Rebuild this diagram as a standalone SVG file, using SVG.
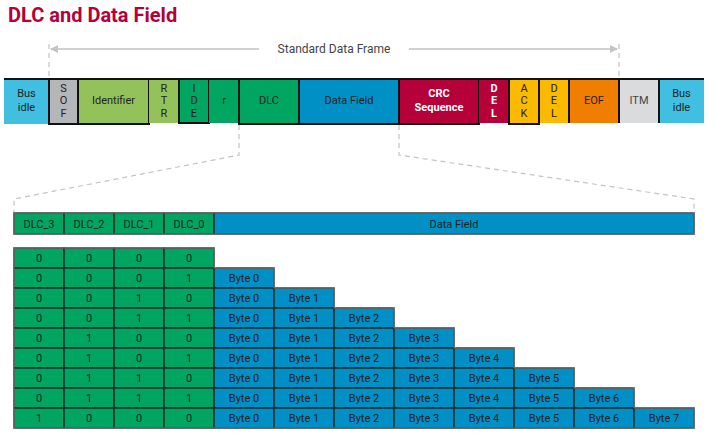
<svg xmlns="http://www.w3.org/2000/svg" width="721" height="439" viewBox="0 0 721 439">
<style>
text{font-family:Roboto,"Liberation Sans",sans-serif;font-size:11px;fill:#222;text-anchor:middle}
.t{font-size:20px;font-weight:bold;fill:#b5003a;text-anchor:start}
.w{fill:#fff;font-weight:bold}
.g{fill:#444}
.c{stroke:#111;stroke-width:2}
.tb{stroke:#1c2e2a;stroke-width:1.5}
.dash{fill:none;stroke:#c4c4c4;stroke-width:1.2;stroke-dasharray:5 4}
</style>
<defs>
<marker id="ah" viewBox="0 0 8 8" refX="7" refY="4" markerWidth="8" markerHeight="8" orient="auto-start-reverse" markerUnits="userSpaceOnUse">
<path d="M0,0 L8,4 L0,8 Z" fill="#c4c4c4"/>
</marker>
</defs>
<rect width="721" height="439" fill="#fff"/>
<text class="t" x="8" y="22">DLC and Data Field</text>

<g id="connectors">
<line x1="51" y1="49" x2="259" y2="49" stroke="#d0d0d0" stroke-width="2" marker-start="url(#ah)"/>
<line x1="409" y1="49" x2="617" y2="49" stroke="#d0d0d0" stroke-width="2" marker-end="url(#ah)"/>
<path class="dash" d="M49,44 V79"/>
<path class="dash" d="M619,44 V79"/>
<path class="dash" d="M239,125 V155 L14,199 V212"/>
<path class="dash" d="M399,125 V155 L694,199 V212"/>
<text x="334" y="53" class="g" style="font-size:12px">Standard Data Frame</text>
</g>

<g id="frame">
<g id="busidle1"><rect x="4" y="79" width="45" height="45" fill="#41bfe0"/><text x="26.5" y="97">Bus</text><text x="26.5" y="111">idle</text></g>
<g id="sof"><rect x="49" y="79" width="29" height="45" fill="#b4b6b9" class="c"/><text x="63.5" y="92">S</text><text x="63.5" y="104">O</text><text x="63.5" y="117">F</text></g>
<g id="identifier"><rect x="78" y="79" width="71" height="45" fill="#93c25a" class="c"/><text x="113.5" y="104">Identifier</text></g>
<g id="rtr"><rect x="149" y="79" width="30" height="44" fill="#93c25a"/><text x="164" y="92">R</text><text x="164" y="104">T</text><text x="164" y="117">R</text></g>
<g id="ide"><rect x="179" y="79" width="30" height="44" fill="#00a562" class="c"/><text x="194" y="92">I</text><text x="194" y="104">D</text><text x="194" y="117">E</text></g>
<g id="r"><rect x="209" y="79" width="30" height="44" fill="#00a562"/><text x="224" y="104">r</text></g>
<g id="dlc"><rect x="239" y="79" width="60" height="45" fill="#00a562" class="c"/><text x="269" y="104">DLC</text></g>
<g id="datafield"><rect x="299" y="79" width="100" height="45" fill="#0090c6" class="c"/><text x="349" y="104">Data Field</text></g>
<g id="crc"><rect x="399" y="79" width="80" height="45" fill="#b5003a" class="c"/><text x="439" y="97" class="w">CRC</text><text x="439" y="111" class="w">Sequence</text></g>
<g id="del1"><rect x="479" y="79" width="30" height="44" fill="#b5003a"/><text x="494" y="92" class="w">D</text><text x="494" y="104" class="w">E</text><text x="494" y="117" class="w">L</text></g>
<g id="ack"><rect x="509" y="79" width="30" height="45" fill="#fbb900" class="c"/><text x="524" y="92">A</text><text x="524" y="104">C</text><text x="524" y="117">K</text></g>
<g id="del2"><rect x="539" y="79" width="30" height="44" fill="#fbb900"/><text x="554" y="92">D</text><text x="554" y="104">E</text><text x="554" y="117">L</text></g>
<g id="eof"><rect x="569" y="79" width="50" height="44" fill="#f07e00"/><text x="594" y="104">EOF</text></g>
<g id="itm"><rect x="619" y="79" width="40" height="44" fill="#d9dbdd"/><text x="639" y="104" class="g">ITM</text></g>
<g id="busidle2"><rect x="659" y="79" width="45" height="44" fill="#41bfe0"/><text x="681.5" y="97">Bus</text><text x="681.5" y="111">idle</text></g>
<path d="M4,79 H704 M569,79 V123 M619,79 V123 M659,79 V123 M539,79 V123" stroke="#111" stroke-width="2" fill="none"/>
</g>

<g id="dlcrow">
<rect x="14" y="213" width="50" height="21" fill="#00a562" class="tb"/><text x="39" y="227.5">DLC_3</text>
<rect x="64" y="213" width="50" height="21" fill="#00a562" class="tb"/><text x="89" y="227.5">DLC_2</text>
<rect x="114" y="213" width="50" height="21" fill="#00a562" class="tb"/><text x="139" y="227.5">DLC_1</text>
<rect x="164" y="213" width="50" height="21" fill="#00a562" class="tb"/><text x="189" y="227.5">DLC_0</text>
<rect x="214" y="213" width="480" height="21" fill="#0090c6" class="tb"/><text x="454" y="227.5">Data Field</text>
<rect x="14" y="213" width="680" height="21" fill="none" stroke="#808080" stroke-width="1"/>
</g>

<g id="table">
<g fill="#00a562" class="tb">
<rect x="14" y="248" width="50" height="20"/><rect x="64" y="248" width="50" height="20"/><rect x="114" y="248" width="50" height="20"/><rect x="164" y="248" width="50" height="20"/>
<rect x="14" y="268" width="50" height="20"/><rect x="64" y="268" width="50" height="20"/><rect x="114" y="268" width="50" height="20"/><rect x="164" y="268" width="50" height="20"/>
<rect x="14" y="288" width="50" height="20"/><rect x="64" y="288" width="50" height="20"/><rect x="114" y="288" width="50" height="20"/><rect x="164" y="288" width="50" height="20"/>
<rect x="14" y="308" width="50" height="20"/><rect x="64" y="308" width="50" height="20"/><rect x="114" y="308" width="50" height="20"/><rect x="164" y="308" width="50" height="20"/>
<rect x="14" y="328" width="50" height="20"/><rect x="64" y="328" width="50" height="20"/><rect x="114" y="328" width="50" height="20"/><rect x="164" y="328" width="50" height="20"/>
<rect x="14" y="348" width="50" height="20"/><rect x="64" y="348" width="50" height="20"/><rect x="114" y="348" width="50" height="20"/><rect x="164" y="348" width="50" height="20"/>
<rect x="14" y="368" width="50" height="20"/><rect x="64" y="368" width="50" height="20"/><rect x="114" y="368" width="50" height="20"/><rect x="164" y="368" width="50" height="20"/>
<rect x="14" y="388" width="50" height="20"/><rect x="64" y="388" width="50" height="20"/><rect x="114" y="388" width="50" height="20"/><rect x="164" y="388" width="50" height="20"/>
<rect x="14" y="408" width="50" height="20"/><rect x="64" y="408" width="50" height="20"/><rect x="114" y="408" width="50" height="20"/><rect x="164" y="408" width="50" height="20"/>
</g>
<g fill="#0090c6" class="tb">
<rect x="214" y="268" width="60" height="20"/>
<rect x="214" y="288" width="60" height="20"/><rect x="274" y="288" width="60" height="20"/>
<rect x="214" y="308" width="60" height="20"/><rect x="274" y="308" width="60" height="20"/><rect x="334" y="308" width="60" height="20"/>
<rect x="214" y="328" width="60" height="20"/><rect x="274" y="328" width="60" height="20"/><rect x="334" y="328" width="60" height="20"/><rect x="394" y="328" width="60" height="20"/>
<rect x="214" y="348" width="60" height="20"/><rect x="274" y="348" width="60" height="20"/><rect x="334" y="348" width="60" height="20"/><rect x="394" y="348" width="60" height="20"/><rect x="454" y="348" width="60" height="20"/>
<rect x="214" y="368" width="60" height="20"/><rect x="274" y="368" width="60" height="20"/><rect x="334" y="368" width="60" height="20"/><rect x="394" y="368" width="60" height="20"/><rect x="454" y="368" width="60" height="20"/><rect x="514" y="368" width="60" height="20"/>
<rect x="214" y="388" width="60" height="20"/><rect x="274" y="388" width="60" height="20"/><rect x="334" y="388" width="60" height="20"/><rect x="394" y="388" width="60" height="20"/><rect x="454" y="388" width="60" height="20"/><rect x="514" y="388" width="60" height="20"/><rect x="574" y="388" width="60" height="20"/>
<rect x="214" y="408" width="60" height="20"/><rect x="274" y="408" width="60" height="20"/><rect x="334" y="408" width="60" height="20"/><rect x="394" y="408" width="60" height="20"/><rect x="454" y="408" width="60" height="20"/><rect x="514" y="408" width="60" height="20"/><rect x="574" y="408" width="60" height="20"/><rect x="634" y="408" width="60" height="20"/>
</g>
<path d="M14,248 H214 V268 H274 V288 H334 V308 H394 V328 H454 V348 H514 V368 H574 V388 H634 V408 H694 V428 H14 Z" fill="none" stroke="#808080" stroke-width="1"/>
<g>
<text x="39" y="262">0</text><text x="89" y="262">0</text><text x="139" y="262">0</text><text x="189" y="262">0</text>
<text x="39" y="282">0</text><text x="89" y="282">0</text><text x="139" y="282">0</text><text x="189" y="282">1</text>
<text x="39" y="302">0</text><text x="89" y="302">0</text><text x="139" y="302">1</text><text x="189" y="302">0</text>
<text x="39" y="322">0</text><text x="89" y="322">0</text><text x="139" y="322">1</text><text x="189" y="322">1</text>
<text x="39" y="342">0</text><text x="89" y="342">1</text><text x="139" y="342">0</text><text x="189" y="342">0</text>
<text x="39" y="362">0</text><text x="89" y="362">1</text><text x="139" y="362">0</text><text x="189" y="362">1</text>
<text x="39" y="382">0</text><text x="89" y="382">1</text><text x="139" y="382">1</text><text x="189" y="382">0</text>
<text x="39" y="402">0</text><text x="89" y="402">1</text><text x="139" y="402">1</text><text x="189" y="402">1</text>
<text x="39" y="422">1</text><text x="89" y="422">0</text><text x="139" y="422">0</text><text x="189" y="422">0</text>
</g>
<g>
<text x="244" y="282">Byte 0</text>
<text x="244" y="302">Byte 0</text><text x="304" y="302">Byte 1</text>
<text x="244" y="322">Byte 0</text><text x="304" y="322">Byte 1</text><text x="364" y="322">Byte 2</text>
<text x="244" y="342">Byte 0</text><text x="304" y="342">Byte 1</text><text x="364" y="342">Byte 2</text><text x="424" y="342">Byte 3</text>
<text x="244" y="362">Byte 0</text><text x="304" y="362">Byte 1</text><text x="364" y="362">Byte 2</text><text x="424" y="362">Byte 3</text><text x="484" y="362">Byte 4</text>
<text x="244" y="382">Byte 0</text><text x="304" y="382">Byte 1</text><text x="364" y="382">Byte 2</text><text x="424" y="382">Byte 3</text><text x="484" y="382">Byte 4</text><text x="544" y="382">Byte 5</text>
<text x="244" y="402">Byte 0</text><text x="304" y="402">Byte 1</text><text x="364" y="402">Byte 2</text><text x="424" y="402">Byte 3</text><text x="484" y="402">Byte 4</text><text x="544" y="402">Byte 5</text><text x="604" y="402">Byte 6</text>
<text x="244" y="422">Byte 0</text><text x="304" y="422">Byte 1</text><text x="364" y="422">Byte 2</text><text x="424" y="422">Byte 3</text><text x="484" y="422">Byte 4</text><text x="544" y="422">Byte 5</text><text x="604" y="422">Byte 6</text><text x="664" y="422">Byte 7</text>
</g>
</g>
</svg>
